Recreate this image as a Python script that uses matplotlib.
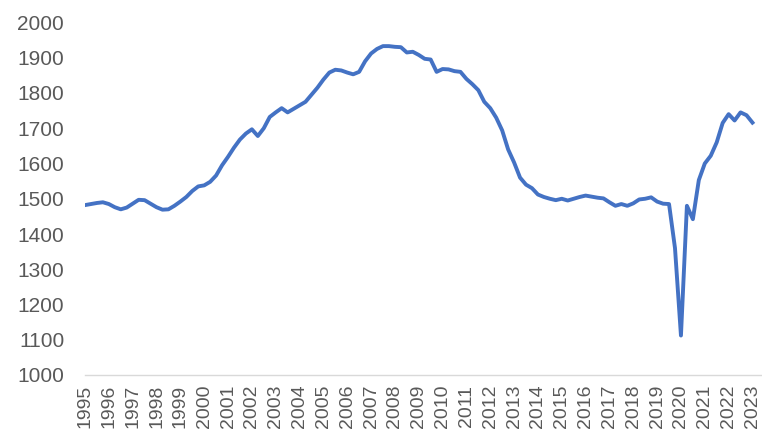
import matplotlib
matplotlib.use("Agg")
import matplotlib.pyplot as plt

years = [str(y) for y in range(1995, 2024)]

values = [
    1482, 1485, 1488, 1490, 1485, 1476, 1470, 1475, 1486, 1497,
    1496, 1486, 1476, 1469, 1470, 1480, 1492, 1505, 1522, 1535,
    1538, 1548, 1566, 1595, 1619, 1645, 1668, 1685, 1697, 1678,
    1700, 1732, 1745, 1757, 1745, 1755, 1765, 1775, 1795, 1815,
    1838, 1858, 1866, 1864, 1858, 1853, 1860, 1890, 1912, 1925,
    1933, 1933, 1931, 1930, 1915, 1917, 1908, 1897, 1895, 1860,
    1868, 1867, 1862, 1860, 1840, 1825, 1808, 1775, 1757, 1730,
    1694, 1640, 1603, 1560, 1540, 1530, 1512, 1505, 1500, 1496,
    1500, 1495, 1500, 1505, 1509, 1506, 1503, 1501, 1490, 1480,
    1485, 1480, 1487, 1498, 1500, 1504, 1492, 1486, 1485, 1360,
    1112, 1480, 1442, 1553, 1600, 1622, 1660, 1715, 1740, 1722,
    1745, 1737, 1716,
]

yticks = list(range(1000, 2001, 100))

plt.rcParams['font.family'] = ['Liberation Sans', 'DejaVu Sans']

fig = plt.figure(figsize=(7.62, 4.37), dpi=100)
ax = fig.add_axes([85 / 762, 1 - 375 / 437, 1 - 85 / 762, (375 - 22.5) / 437])

x = list(range(len(values)))
ax.plot(x, values, color='#4472C4', lw=2.8, solid_joinstyle='round')

ax.set_ylim(1000, 2000)
ax.set_xlim(0, 113.6)
ax.set_yticks(yticks)
ax.set_yticklabels([str(v) for v in yticks])
ax.set_xticks(list(range(0, len(values), 4)))
ax.set_xticklabels(years, rotation=90)

for s in ['top', 'right', 'left']:
    ax.spines[s].set_visible(False)
ax.spines['bottom'].set_color('#d9d9d9')
ax.spines['bottom'].set_linewidth(1.0)
ax.tick_params(axis='both', length=0, colors='#595959')
ax.tick_params(axis='y', pad=15, labelsize=15)
ax.tick_params(axis='x', pad=7, labelsize=14)

fig.savefig('out.png', dpi=100)
